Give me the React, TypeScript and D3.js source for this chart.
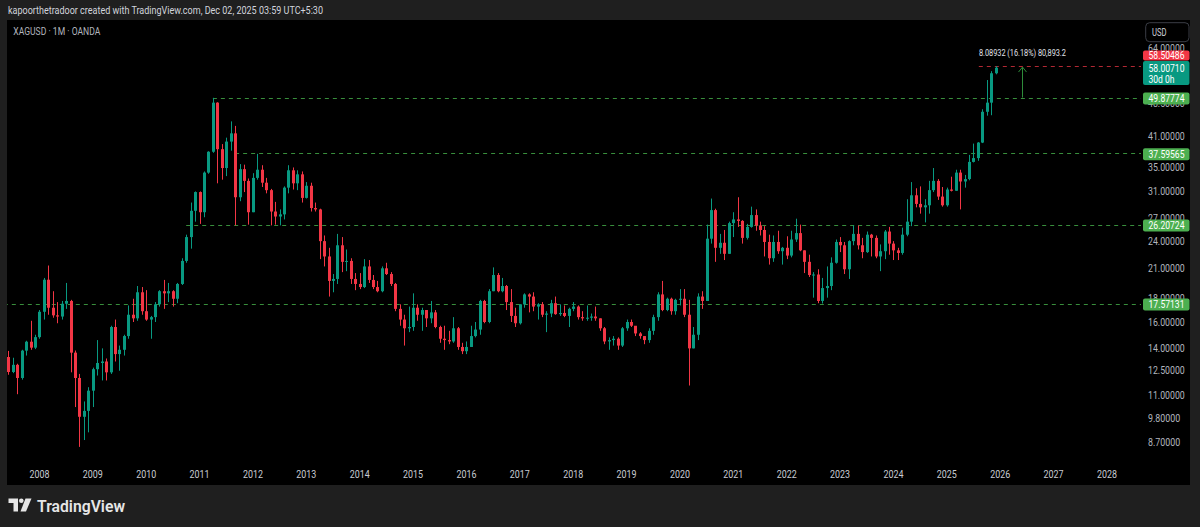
import React from "react";
import * as d3 from "d3";

// ---------- DATA (monthly XAGUSD, first bar = Jun 2007) ----------
const firstBarOffset = -7; // months relative to Jan 2008

const opens = [
  // 2007 Jun-Dec
  13.40, 12.42, 12.88, 12.05, 13.84, 14.48, 14.05,
  // 2008
  14.82, 16.85, 19.82, 17.20, 16.55, 16.45, 17.55, 17.80, 13.70, 12.05, 9.90, 10.20,
  // 2009
  11.30, 12.60, 13.00, 13.10, 12.40, 15.60, 13.60, 13.90, 14.90, 16.60, 16.30, 18.60,
  // 2010
  16.90, 16.20, 16.40, 17.50, 18.70, 18.50, 18.70, 18.00, 19.40, 21.80, 24.60, 28.10,
  // 2011
  30.90, 27.90, 34.10, 37.90, 48.60, 38.40, 34.90, 39.90, 41.60, 30.10, 34.70, 32.70,
  // 2012
  27.90, 33.20, 34.60, 32.40, 31.20, 28.00, 27.30, 27.60, 31.60, 34.50, 32.30, 33.80,
  // 2013
  30.00, 31.90, 28.50, 28.30, 24.10, 22.30, 19.70, 19.90, 23.60, 21.70, 21.80, 19.90,
  // 2014
  19.40, 19.10, 21.20, 19.80, 19.10, 18.70, 21.00, 20.40, 19.40, 17.10, 16.20, 15.50,
  // 2015
  15.60, 17.20, 16.60, 17.00, 16.30, 16.80, 15.60, 14.70, 14.60, 14.50, 15.50, 14.10,
  // 2016
  13.80, 14.10, 14.90, 15.40, 17.80, 16.00, 18.70, 20.30, 18.70, 19.20, 17.70, 16.50,
  // 2017
  15.90, 17.50, 18.40, 18.20, 17.30, 17.50, 16.60, 16.70, 17.60, 16.65, 16.75, 16.50,
  // 2018
  17.10, 17.30, 16.40, 16.30, 16.35, 16.45, 16.30, 15.50, 14.50, 14.60, 14.70, 14.20,
  // 2019
  15.50, 16.00, 15.70, 15.10, 14.90, 14.60, 15.30, 16.40, 18.40, 17.00, 18.00, 16.90,
  // 2020
  17.90, 18.00, 16.60, 14.00, 15.00, 18.20, 17.80, 24.40, 28.20, 23.30, 23.90, 22.60,
  // 2021
  26.40, 26.90, 26.70, 24.50, 25.90, 27.50, 26.10, 25.50, 24.00, 22.10, 24.00, 22.90,
  // 2022
  23.30, 22.40, 24.30, 25.10, 23.00, 21.70, 20.30, 20.35, 17.80, 19.00, 19.20, 21.60,
  // 2023
  24.00, 23.60, 20.90, 24.10, 25.00, 23.60, 22.80, 24.90, 24.50, 22.30, 22.90, 25.30,
  // 2024
  23.80, 23.00, 22.70, 24.90, 26.60, 30.40, 29.10, 28.60, 28.90, 31.20, 32.70, 30.20,
  // 2025
  28.90, 31.30, 31.10, 34.10, 32.60, 33.00, 36.00, 36.70, 39.70, 46.40, 48.60, 56.40,
];

const highs = [
  13.82, 13.35, 12.95, 13.90, 14.55, 16.10, 15.00,
  17.00, 20.00, 21.30, 18.70, 17.70, 17.80, 19.50, 17.90, 13.85, 12.30, 10.70, 11.50,
  12.70, 14.60, 14.00, 13.30, 15.70, 16.20, 14.20, 15.00, 17.40, 18.00, 19.20, 19.10,
  18.80, 16.50, 17.70, 18.80, 19.80, 19.50, 18.80, 19.50, 22.10, 24.90, 29.30, 31.00,
  31.00, 34.30, 38.00, 49.80, 48.70, 39.40, 40.70, 44.20, 43.20, 35.60, 35.50, 33.10,
  34.00, 37.50, 35.40, 33.20, 31.40, 29.40, 28.30, 31.80, 35.40, 35.00, 34.50, 34.30,
  32.50, 32.40, 29.30, 28.40, 24.80, 23.30, 20.40, 25.00, 24.60, 23.10, 22.10, 20.50,
  20.50, 22.00, 21.90, 20.30, 19.70, 21.20, 21.60, 20.60, 19.50, 17.50, 16.60, 17.30,
  18.50, 17.50, 17.20, 17.00, 17.80, 17.00, 15.70, 15.70, 15.30, 16.40, 15.60, 14.40,
  14.50, 15.70, 16.00, 17.90, 17.90, 18.90, 21.10, 20.50, 20.00, 19.30, 18.90, 17.20,
  17.50, 18.50, 18.50, 18.60, 17.60, 17.70, 16.90, 17.90, 18.20, 17.50, 17.40, 17.20,
  17.70, 17.40, 16.90, 17.40, 16.70, 17.30, 16.30, 15.60, 14.80, 14.90, 14.80, 15.60,
  16.20, 16.20, 15.60, 15.20, 14.90, 15.50, 16.60, 18.60, 19.70, 18.10, 18.10, 18.00,
  18.90, 18.90, 17.90, 15.60, 18.50, 18.70, 26.20, 29.90, 28.40, 25.00, 25.50, 26.60,
  27.90, 30.10, 26.80, 26.30, 28.70, 28.30, 26.60, 26.00, 24.90, 24.80, 25.40, 23.40,
  24.70, 25.40, 27.00, 26.20, 23.00, 22.50, 20.60, 20.90, 20.00, 21.20, 22.20, 24.30,
  24.60, 24.00, 24.20, 26.10, 26.10, 24.50, 25.30, 25.00, 24.80, 23.70, 25.50, 25.90,
  24.10, 23.30, 25.80, 29.80, 32.50, 31.50, 31.80, 29.80, 32.70, 34.90, 33.00, 31.70,
  31.60, 33.40, 34.60, 34.60, 33.70, 37.30, 39.50, 39.80, 47.00, 54.50, 57.00, 58.50486,
];

const lows = [
  12.25, 12.35, 11.10, 11.95, 13.50, 13.90, 13.95,
  14.70, 16.20, 16.60, 16.35, 15.90, 16.20, 17.10, 12.40, 10.40, 8.50, 8.80, 9.15,
  10.40, 12.20, 11.90, 11.90, 12.30, 13.10, 12.50, 13.50, 14.70, 16.00, 16.10, 16.60,
  16.10, 14.70, 16.00, 17.30, 17.10, 17.70, 17.30, 17.60, 19.30, 21.60, 23.20, 26.60,
  26.30, 27.20, 33.90, 37.70, 32.30, 32.90, 33.50, 38.10, 26.10, 29.50, 30.90, 26.20,
  27.90, 32.90, 31.70, 30.70, 26.10, 26.20, 26.10, 26.90, 30.70, 31.30, 31.20, 29.30,
  29.90, 28.00, 28.00, 22.00, 21.20, 18.20, 18.60, 19.40, 20.60, 20.70, 19.40, 18.80,
  18.90, 19.00, 19.50, 18.90, 18.60, 18.60, 20.30, 19.20, 16.90, 15.70, 14.20, 15.20,
  15.30, 16.10, 15.30, 15.60, 15.90, 15.50, 14.40, 13.90, 14.30, 14.40, 13.90, 13.60,
  13.60, 14.10, 14.80, 15.00, 15.90, 15.90, 18.70, 18.60, 18.60, 17.00, 16.00, 15.60,
  15.80, 17.20, 16.80, 16.90, 16.20, 16.40, 15.20, 16.40, 16.60, 16.50, 16.40, 15.60,
  16.90, 16.20, 16.10, 16.10, 16.10, 16.10, 15.30, 14.30, 13.90, 14.20, 13.90, 14.10,
  15.30, 15.60, 14.90, 14.70, 14.30, 14.40, 15.00, 16.10, 16.90, 16.90, 16.60, 16.60,
  17.40, 16.40, 11.60, 14.00, 14.60, 17.10, 17.80, 23.80, 21.70, 22.60, 21.90, 22.60,
  24.60, 25.90, 23.80, 24.30, 25.80, 25.40, 24.80, 22.30, 21.40, 21.70, 22.60, 21.40,
  22.00, 22.20, 24.00, 22.90, 20.50, 20.10, 18.10, 17.60, 17.57131, 18.10, 18.80, 21.50,
  22.80, 20.40, 19.90, 23.60, 23.10, 22.10, 22.70, 22.30, 22.10, 20.70, 22.00, 22.50,
  21.90, 21.90, 22.50, 24.70, 26.00, 28.60, 27.70, 26.50, 27.70, 30.90, 29.70, 28.70,
  28.70, 31.00, 31.10, 28.30, 31.60, 32.80, 35.90, 36.20, 39.60, 45.50, 45.60, 56.10,
];

const closes = [
  12.42, 12.88, 12.05, 13.84, 14.48, 14.05, 14.82,
  16.85, 19.82, 17.20, 16.55, 16.45, 17.55, 17.80, 13.70, 12.05, 9.90, 10.20, 11.30,
  12.60, 13.00, 13.10, 12.40, 15.60, 13.60, 13.90, 14.90, 16.60, 16.30, 18.60, 16.90,
  16.20, 16.40, 17.50, 18.70, 18.50, 18.70, 18.00, 19.40, 21.80, 24.60, 28.10, 30.90,
  27.90, 34.10, 37.90, 48.60, 38.40, 34.90, 39.90, 41.60, 30.10, 34.70, 32.70, 27.90,
  33.20, 34.60, 32.40, 31.20, 28.00, 27.30, 27.60, 31.60, 34.50, 32.30, 33.80, 30.00,
  31.90, 28.50, 28.30, 24.10, 22.30, 19.70, 19.90, 23.60, 21.70, 21.80, 19.90, 19.40,
  19.10, 21.20, 19.80, 19.10, 18.70, 21.00, 20.40, 19.40, 17.10, 16.20, 15.50, 15.60,
  17.20, 16.60, 17.00, 16.30, 16.80, 15.60, 14.70, 14.60, 14.50, 15.50, 14.10, 13.80,
  14.10, 14.90, 15.40, 17.80, 16.00, 18.70, 20.30, 18.70, 19.20, 17.70, 16.50, 15.90,
  17.50, 18.40, 18.20, 17.30, 17.50, 16.60, 16.70, 17.60, 16.65, 16.75, 16.50, 17.10,
  17.30, 16.40, 16.30, 16.35, 16.45, 16.30, 15.50, 14.50, 14.60, 14.70, 14.20, 15.50,
  16.00, 15.70, 15.10, 14.90, 14.60, 15.30, 16.40, 18.40, 17.00, 18.00, 16.90, 17.90,
  18.00, 16.60, 14.00, 15.00, 18.20, 17.80, 24.40, 28.20, 23.30, 23.90, 22.60, 26.40,
  26.90, 26.70, 24.50, 25.90, 27.50, 26.10, 25.50, 24.00, 22.10, 24.00, 22.90, 23.30,
  22.40, 24.30, 25.10, 23.00, 21.70, 20.30, 20.35, 17.80, 19.00, 19.20, 21.60, 24.00,
  23.60, 20.90, 24.10, 25.00, 23.60, 22.80, 24.90, 24.50, 22.30, 22.90, 25.30, 23.80,
  23.00, 22.70, 24.90, 26.60, 30.40, 29.10, 28.60, 28.90, 31.20, 32.70, 30.20, 28.90,
  31.30, 31.10, 34.10, 32.60, 33.00, 36.00, 36.70, 39.70, 46.40, 48.60, 56.40, 58.0071,
];

const yearLabels = [
  "2008", "2009", "2010", "2011", "2012", "2013", "2014", "2015", "2016", "2017",
  "2018", "2019", "2020", "2021", "2022", "2023", "2024", "2025", "2026", "2027", "2028",
];

// visible (some partly covered by level labels, as in the reference)
const priceTicks = [64, 48.5, 41, 35, 31, 27, 24, 21, 18, 16, 14, 12.5, 11, 9.8, 8.7];

// horizontal support/resistance levels and the month (rel. Jan 2008) they start at
const levelValues = [49.87774, 37.59565, 26.20724, 17.57131];
const levelStartMonths = [39, 44, 33, -8];

const athLevel = 58.50486;
const athStartMonth = 213;
const lastClose = 58.0071;
const measureFrom = 49.87774;
const measureTo = 58.2;
const measureMonth = 221;
const measureText = "8.08932 (16.18%) 80,893.2";

// ---------- LAYOUT ----------
const W = 1200;
const H = 527;
const paneL = 7, paneR = 1141, paneT = 20, paneB = 463;
const axisR = 1190, frameB = 485;

const UP = "#089981";
const DOWN = "#f23645";
const LEVEL = "#388e3c";
const FONT = "Roboto, 'Open Sans', sans-serif";

export default function App() {
  const x = d3.scaleLinear().domain([0, 240]).range([39.4, 39.4 + 240 * 4.448]);
  const y = d3.scaleLog().domain([8.7, 64]).range([442.3, 48.3]);

  const bars = closes.map((c, k) => ({
    i: k + firstBarOffset,
    o: opens[k],
    h: highs[k],
    l: lows[k],
    c,
  }));

  const fmt = d3.format(".5f");
  const tlen = (s: string) => s.length * 4.6;

  return (
    <svg
      width={W}
      height={H}
      style={{ position: "absolute", left: 0, top: 0, display: "block" }}
      fontFamily={FONT}
    >
      <defs>
        <clipPath id="pane">
          <rect x={paneL} y={paneT} width={paneR - paneL} height={paneB - paneT} />
        </clipPath>
      </defs>
      <rect x={0} y={0} width={W} height={H} fill="#1f1f1f" />
      <rect x={paneL} y={paneT} width={axisR - paneL} height={frameB - paneT} fill="#000" />

      {/* header */}
      <text x={8} y={14} fontSize={11} fill="#d1d4dc" textLength={315} lengthAdjust="spacingAndGlyphs">
        kapoorthetradoor created with TradingView.com, Dec 02, 2025 03:59 UTC+5:30
      </text>
      <text x={13.3} y={34.5} fontSize={10} fill="#b2b5be" textLength={87} lengthAdjust="spacingAndGlyphs">
        XAGUSD · 1M · OANDA
      </text>

      <g clipPath="url(#pane)">
        {/* level lines */}
        {levelValues.map((v, j) => (
          <line
            key={"lv" + j}
            x1={x(levelStartMonths[j])}
            x2={paneR + 2}
            y1={Math.round(y(v)) + 0.5}
            y2={Math.round(y(v)) + 0.5}
            stroke={LEVEL}
            strokeWidth={1}
            strokeDasharray="4 4"
          />
        ))}
        <line
          x1={x(athStartMonth) - 8}
          x2={paneR + 2}
          y1={Math.round(y(athLevel)) + 0.5}
          y2={Math.round(y(athLevel)) + 0.5}
          stroke="#b22833"
          strokeWidth={1}
          strokeDasharray="4 4"
        />

        {/* candles */}
        {bars.map((b) => {
          const cx = Math.round(x(b.i));
          const col = b.c >= b.o ? UP : DOWN;
          const top = y(Math.max(b.o, b.c));
          const bot = y(Math.min(b.o, b.c));
          return (
            <g key={"b" + b.i}>
              <line x1={cx + 0.5} x2={cx + 0.5} y1={y(b.h)} y2={y(b.l)} stroke={col} strokeWidth={1} />
              <rect x={cx - 1} y={top} width={3} height={Math.max(1, bot - top)} fill={col} />
            </g>
          );
        })}

        {/* measure arrow */}
        {(() => {
          const mx = Math.round(x(measureMonth)) + 0.5;
          const y0 = y(measureFrom);
          const y1 = y(measureTo);
          return (
            <g stroke="#2e8b3a" strokeWidth={1} fill="none">
              <line x1={mx} x2={mx} y1={y0} y2={y1} />
              <polyline points={`${mx - 4},${y1 + 5} ${mx},${y1} ${mx + 4},${y1 + 5}`} />
            </g>
          );
        })()}
        <text
          x={x(measureMonth)}
          y={56}
          fontSize={8.5}
          fill="#e0e3eb"
          textAnchor="middle"
          textLength={87}
          lengthAdjust="spacingAndGlyphs"
        >
          {measureText}
        </text>
      </g>

      {/* price axis ticks */}
      {priceTicks.map((v) => {
        const s = fmt(v);
        return (
          <text
            key={"pt" + v}
            x={1148}
            y={y(v) + 3.5}
            fontSize={10}
            fill="#b2b5be"
            textLength={tlen(s)}
            lengthAdjust="spacingAndGlyphs"
          >
            {s}
          </text>
        );
      })}

      {/* level labels */}
      {levelValues.map((v, j) => {
        const s = fmt(v);
        const cy = y(v) + 1;
        return (
          <g key={"ll" + j}>
            <rect x={1143} y={cy - 6} width={46.5} height={12} rx={2} fill="#4caf50" />
            <text x={1148.5} y={cy + 3.6} fontSize={10} fill="#fff" textLength={36} lengthAdjust="spacingAndGlyphs">
              {s}
            </text>
          </g>
        );
      })}

      {/* ath label (red) and last price label */}
      <rect x={1143} y={50.5} width={46.5} height={10} rx={2} fill={DOWN} />
      <text x={1148.5} y={59} fontSize={10} fill="#fff" textLength={36} lengthAdjust="spacingAndGlyphs">
        {fmt(athLevel)}
      </text>
      <rect x={1143} y={61} width={46.5} height={24} rx={2} fill={UP} />
      <text x={1148.5} y={71.8} fontSize={10} fill="#fff" textLength={36} lengthAdjust="spacingAndGlyphs">
        {fmt(lastClose)}
      </text>
      <text x={1148.5} y={82.5} fontSize={10} fill="#fff" textLength={26} lengthAdjust="spacingAndGlyphs">
        30d 0h
      </text>

      {/* USD box */}
      <rect x={1145.7} y={22.7} width={43.3} height={19} rx={4} fill="#000" stroke="#3a3d45" strokeWidth={1} />
      <text x={1152} y={36} fontSize={10} fill="#d1d4dc" textLength={14.5} lengthAdjust="spacingAndGlyphs">
        USD
      </text>

      {/* time axis */}
      {yearLabels.map((s, j) => (
        <text
          key={"yr" + s}
          x={x(j * 12)}
          y={477.5}
          fontSize={10}
          fill="#c8cbd2"
          textAnchor="middle"
          textLength={20}
          lengthAdjust="spacingAndGlyphs"
        >
          {s}
        </text>
      ))}

      {/* TradingView logo */}
      <g fill="#e6e6e6">
        <path d="M8.5 498.5 H18 V511.5 H13.5 V503 H8.5 Z" />
        <circle cx={21.3} cy={500.8} r={2.3} />
        <path d="M25.5 498.5 H31.5 L26 511.5 H20.5 Z" />
      </g>
      <text x={37} y={511.5} fontSize={17} fontWeight={600} fill="#e6e6e6" textLength={88} lengthAdjust="spacingAndGlyphs">
        TradingView
      </text>
    </svg>
  );
}
